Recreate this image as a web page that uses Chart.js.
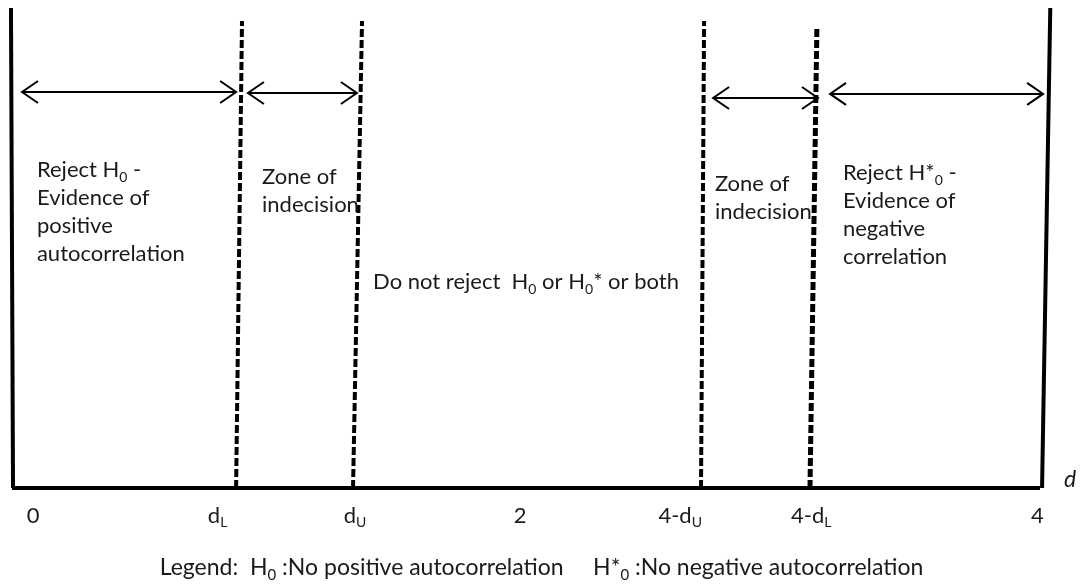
<!DOCTYPE html>
<html>
<head>
<meta charset="utf-8">
<script src="https://cdn.jsdelivr.net/npm/chart.js@4/dist/chart.umd.min.js"></script>
<style>
  html, body { margin: 0; padding: 0; background: #fff; }
  #wrap { width: 1083px; height: 588px; }
</style>
</head>
<body>
<div id="wrap"><canvas id="grafico"></canvas></div>
<script>
// Linhas de fronteira (unidades de d). O desenho original é um pouco inclinado,
// por isso cada linha tem um x no topo e outro na base.
const boundaryNames = ["left", "dL", "dU", "4-dU", "4-dL", "right"];
const boundaryTopX = [-0.004, 0.895, 1.362, 2.693, 3.132, 4.04];
const boundaryBottomX = [0.004, 0.872, 1.327, 2.681, 3.105, 4.008];
const boundaryTopY = [1.0, 0.973, 0.973, 0.973, 0.9625, 1.0];
const boundaryDashed = [false, true, true, true, true, false];

// eixo d
const axisFrom = 0;
const axisTo = 4;

// setas de duas pontas sobre cada zona
const arrowStart = [0.039, 0.918, 2.728, 3.183];
const arrowEnd = [0.872, 1.342, 3.136, 4.012];
const arrowY = [0.825, 0.823, 0.8125, 0.821];

// textos das zonas (x à esquerda, y da primeira linha)
const zoneX = [0.097, 0.973, 1.405, 2.735, 3.233];
const zoneY = [0.6625, 0.648, 0.429, 0.633, 0.656];
const zoneText = [
  ["Reject H_{0} -", "Evidence of", "positive", "autocorrelation"],
  ["Zone of", "indecision"],
  ["Do not reject  H_{0} or H_{0}* or both"],
  ["Zone of", "indecision"],
  ["Reject H*_{0} -", "Evidence of", "negative", "correlation"],
];

// rótulos do eixo
const tickPos = [0.082, 0.8, 1.335, 1.977, 2.6, 3.11, 3.99];
const tickLabels = ["0", "d_{L}", "d_{U}", "2", "4-d_{U}", "4-d_{L}", "4"];
const tickY = -0.058;
const axisTitle = "d";
const axisTitleX = 4.117;
const axisTitleY = 0.017;
const legendText =
  "Legend:  H_{0} :No positive autocorrelation     H*_{0} :No negative autocorrelation";
const legendY = -0.166;

const FONT = "Lato, 'Open Sans', sans-serif";
const FONT_SIZE = 22;
const LINE_HEIGHT = 28;

// monta os datasets a partir dos arrays
const datasets = [];
boundaryNames.forEach((name, i) => {
  datasets.push({
    label: name,
    data: [
      { x: boundaryBottomX[i], y: 0 },
      { x: boundaryTopX[i], y: boundaryTopY[i] },
    ],
    showLine: true,
    borderColor: "#000",
    borderWidth: name === "4-dL" ? 5 : 4,
    borderDash: boundaryDashed[i] ? [8, 3] : [],
    pointRadius: 0,
    clip: false,
  });
});
datasets.push({
  label: "eixo",
  data: [
    { x: axisFrom, y: 0 },
    { x: axisTo, y: 0 },
  ],
  showLine: true,
  borderColor: "#000",
  borderWidth: 4,
  pointRadius: 0,
  clip: false,
});
arrowStart.forEach((s, i) => {
  datasets.push({
    label: "seta" + i,
    data: [
      { x: s, y: arrowY[i] },
      { x: arrowEnd[i], y: arrowY[i] },
    ],
    showLine: true,
    borderColor: "#000",
    borderWidth: 2,
    pointRadius: 0,
    clip: false,
  });
});

// desenha texto com subscrito: "H_{0}"
function parseRich(str) {
  const parts = [];
  const re = /_\{([^}]*)\}/g;
  let last = 0, m;
  while ((m = re.exec(str))) {
    if (m.index > last) parts.push({ t: str.slice(last, m.index), sub: false });
    parts.push({ t: m[1], sub: true });
    last = re.lastIndex;
  }
  if (last < str.length) parts.push({ t: str.slice(last), sub: false });
  return parts;
}

function drawRich(ctx, str, x, y, size, align, italic) {
  const parts = parseRich(str);
  const base = (italic ? "italic " : "") + size + "px " + FONT;
  const small = Math.round(size * 0.64) + "px " + FONT;
  let total = 0;
  parts.forEach((p) => {
    ctx.font = p.sub ? small : base;
    p.w = ctx.measureText(p.t).width;
    total += p.w;
  });
  let cx = align === "center" ? x - total / 2 : x;
  ctx.textAlign = "left";
  ctx.textBaseline = "middle";
  parts.forEach((p) => {
    ctx.font = p.sub ? small : base;
    ctx.fillText(p.t, cx, p.sub ? y + size * 0.32 : y);
    cx += p.w;
  });
}

const annotations = {
  id: "annotations",
  afterDatasetsDraw(chart) {
    const ctx = chart.ctx;
    const xs = chart.scales.x;
    const ys = chart.scales.y;
    ctx.save();
    ctx.fillStyle = "#1a1a1a";
    ctx.strokeStyle = "#000";
    ctx.lineWidth = 2;
    ctx.lineJoin = "miter";

    // pontas das setas
    arrowStart.forEach((s, i) => {
      const y = ys.getPixelForValue(arrowY[i]);
      [
        [xs.getPixelForValue(s), 1],
        [xs.getPixelForValue(arrowEnd[i]), -1],
      ].forEach(([px, dir]) => {
        ctx.beginPath();
        ctx.moveTo(px + dir * 16, y - 11);
        ctx.lineTo(px, y);
        ctx.lineTo(px + dir * 16, y + 11);
        ctx.stroke();
      });
    });

    // textos das zonas
    zoneText.forEach((lines, i) => {
      const x = xs.getPixelForValue(zoneX[i]);
      const y0 = ys.getPixelForValue(zoneY[i]);
      lines.forEach((line, j) => {
        drawRich(ctx, line, x, y0 + j * LINE_HEIGHT, FONT_SIZE, "left");
      });
    });

    // rótulos do eixo
    const ty = ys.getPixelForValue(tickY);
    tickLabels.forEach((lab, i) => {
      drawRich(ctx, lab, xs.getPixelForValue(tickPos[i]), ty, FONT_SIZE, "center");
    });
    drawRich(
      ctx,
      axisTitle,
      xs.getPixelForValue(axisTitleX),
      ys.getPixelForValue(axisTitleY),
      FONT_SIZE + 1,
      "center",
      true
    );

    // legenda
    drawRich(
      ctx,
      legendText,
      chart.width / 2,
      ys.getPixelForValue(legendY),
      23,
      "center"
    );
    ctx.restore();
  },
};

const ctxGrafico = document.getElementById("grafico").getContext("2d");
new Chart(ctxGrafico, {
  type: "scatter",
  data: { datasets: datasets },
  options: {
    responsive: true,
    maintainAspectRatio: false,
    animation: false,
    layout: { padding: { left: 12, right: 43, top: 8, bottom: 100 } },
    scales: {
      x: { type: "linear", min: axisFrom, max: axisTo, display: false },
      y: { type: "linear", min: 0, max: 1, display: false },
    },
    plugins: {
      legend: { display: false },
      tooltip: { enabled: false },
    },
  },
  plugins: [annotations],
});
</script>
</body>
</html>
